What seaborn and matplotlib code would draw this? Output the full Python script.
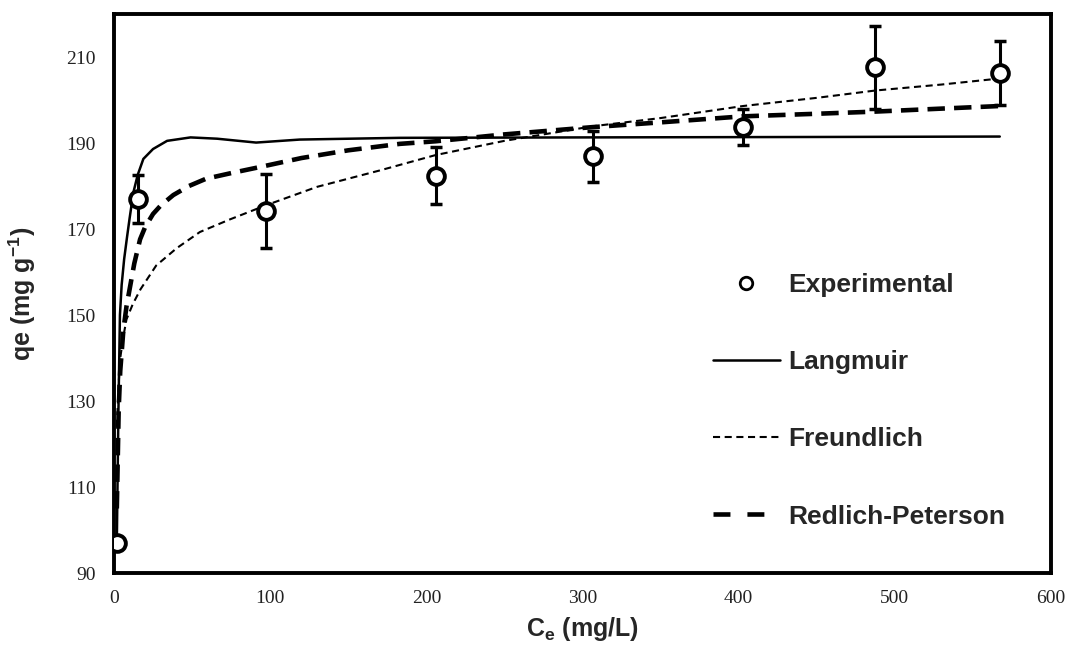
import numpy as np
import matplotlib
matplotlib.use("Agg")
import matplotlib.pyplot as plt
import seaborn as sns
from matplotlib.lines import Line2D

exp_ce = [1.8, 15.2, 97.2, 206.0, 306.7, 402.8, 487.4, 567.2]
exp_qe = [97.0, 177.0, 174.2, 182.4, 186.9, 193.7, 207.6, 206.3]
exp_err = [0.0, 5.5, 8.6, 6.6, 6.0, 4.2, 9.7, 7.5]

# Model curves
lang_ce = [1.8, 2.3, 2.8, 3.8, 4.9, 6.5, 8.3, 10, 12.4, 15.2, 18.8, 25, 34, 49, 66,
           91, 119, 183, 300, 450, 567.2]
lang_qe = [97.0, 112, 127, 150, 157, 163, 168, 172.5, 178.5, 182.6, 186.3, 188.6,
           190.5, 191.3, 191.0, 190.1, 190.8, 191.2, 191.3, 191.4, 191.5]

freu_ce = [1.8, 3, 4, 6, 8, 12, 17, 27, 40, 55, 74, 97.2, 130, 170, 206, 250, 306.7,
           350, 402.8, 450, 487.4, 530, 567.2]
freu_qe = [124, 134, 140, 145, 149, 152.5, 156, 161.5, 165.5, 169.3, 172.2, 175.5,
           179.8, 183.6, 187.2, 190.5, 193.9, 195.8, 198.6, 200.5, 202.2, 203.6, 205.0]

rp_ce = [1.8, 3, 4, 6, 8, 10, 13, 16.7, 20, 25, 30, 38, 48, 59, 75, 92, 120, 150,
         183, 206, 250, 306.7, 350, 402.8, 450, 487.4, 530, 567.2]
rp_qe = [105, 128, 137, 146.5, 152, 156, 162, 167.6, 170.5, 173.5, 175.5, 177.9,
         180.0, 181.7, 183.0, 184.3, 186.5, 188.3, 189.8, 190.4, 192.0, 193.7, 194.8,
         196.2, 196.8, 197.3, 198.0, 198.6]

x_ticks = [0, 100, 200, 300, 400, 500, 600]
y_ticks = [90, 110, 130, 150, 170, 190, 210]

sns.set_style("white")
plt.rcParams['mathtext.fontset'] = 'custom'
plt.rcParams['mathtext.rm'] = 'Liberation Sans:bold'
plt.rcParams['mathtext.it'] = 'Liberation Sans:bold'
plt.rcParams['mathtext.bf'] = 'Liberation Sans:bold'

fig = plt.figure(figsize=(10.68, 6.45), dpi=100)
ax = fig.add_axes([114 / 1068, 1 - 573 / 645, 937 / 1068, 559 / 645])

# model curves
sns.lineplot(x=lang_ce, y=lang_qe, ax=ax, color='black', linewidth=1.8,
             sort=False, estimator=None, zorder=2)
sns.lineplot(x=freu_ce, y=freu_qe, ax=ax, color='black', linewidth=1.5,
             linestyle=(0, (3.4, 2.2)), sort=False, estimator=None, zorder=2)
sns.lineplot(x=rp_ce, y=rp_qe, ax=ax, color='black', linewidth=3.3,
             linestyle=(0, (3.8, 2.0)), sort=False, estimator=None, zorder=2)

# error bars + experimental points
ax.errorbar(exp_ce, exp_qe, yerr=exp_err, fmt='none', ecolor='black',
            elinewidth=2.2, capsize=4.3, capthick=2.5, zorder=3)
sns.scatterplot(x=exp_ce, y=exp_qe, ax=ax, marker='o', s=145, color='white',
                edgecolor='black', linewidth=2.8, zorder=4)

ax.set_xlim(0, 600)
ax.set_ylim(90, 220)
ax.set_xticks(x_ticks)
ax.set_yticks(y_ticks)
ax.set_xticklabels([str(v) for v in x_ticks], family='Liberation Serif', fontsize=14)
ax.set_yticklabels([str(v) for v in y_ticks], family='Liberation Serif', fontsize=14)
ax.tick_params(axis='both', direction='out', length=4, width=1, color='#777777',
               pad=9, labelcolor='#222222')
ax.tick_params(axis='x', pad=8)

for side in ['left', 'bottom', 'top', 'right']:
    ax.spines[side].set_visible(True)
    ax.spines[side].set_color('black')
    ax.spines[side].set_linewidth(2.8)

ax.set_xlabel(r'C$_{\mathrm{e}}$ (mg/L)', family='Liberation Sans', fontweight='bold',
              fontsize=18)
ax.set_ylabel(r'qe (mg g$^{\mathrm{-1}}$)', family='Liberation Sans', fontweight='bold',
              fontsize=18)
ax.xaxis.set_label_coords(0.5, -0.076)
ax.yaxis.set_label_coords(-0.081, 0.5)

handles = [
    Line2D([], [], linestyle='none', marker='o', markersize=9, markerfacecolor='white',
           markeredgecolor='black', markeredgewidth=2),
    Line2D([], [], color='black', linewidth=1.8),
    Line2D([], [], color='black', linewidth=1.5, linestyle=(0, (3.4, 2.2))),
    Line2D([], [], color='black', linewidth=3.3, linestyle=(0, (3.7, 3.7))),
]
labels = ['Experimental', 'Langmuir', 'Freundlich', 'Redlich-Peterson']
ax.legend(handles, labels, loc='upper left', bbox_to_anchor=(0.639, 0.537),
          frameon=False, prop={'family': 'Liberation Sans', 'weight': 'bold', 'size': 19},
          handlelength=2.55, handletextpad=0.33, labelspacing=2.02,
          borderpad=0, borderaxespad=0)

fig.savefig('out.png', dpi=100, facecolor='white')
